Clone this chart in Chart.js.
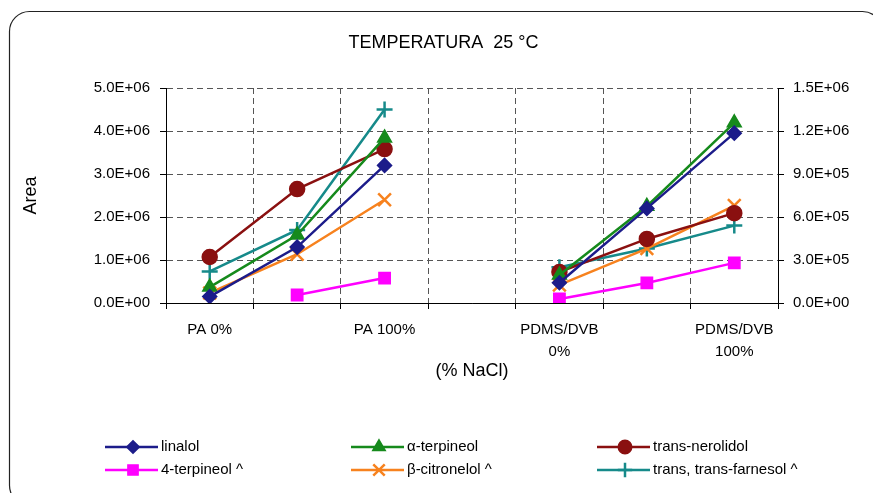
<!DOCTYPE html>
<html>
<head>
<meta charset="utf-8">
<script src="https://cdn.jsdelivr.net/npm/chart.js@4.4.0/dist/chart.umd.min.js"></script>
<style>
  html, body { margin: 0; padding: 0; background: #fff; }
  #wrap { width: 873px; height: 493px; }
</style>
</head>
<body>
<div id="wrap"><canvas id="grafico"></canvas></div>
<script>
const categorias = ['PA 0%', '', 'PA 100%', '', ['PDMS/DVB', '0%'], '', ['PDMS/DVB', '100%']];

// eixo principal (esquerda)
const linalol        = [0.15e6, 1.30e6, 3.20e6, null, 0.47e6, 2.20e6, 3.95e6];
const aTerpineol     = [0.37e6, 1.58e6, 3.84e6, null, 0.65e6, 2.25e6, 4.19e6];
const transNerolidol = [1.07e6, 2.65e6, 3.58e6, null, 0.72e6, 1.49e6, 2.09e6];
// eixo secundario (direita) - series com ^
const terpineol4     = [null, 0.056e6, 0.174e6, null, 0.028e6, 0.14e6, 0.28e6];
const bCitronelol    = [0.07e6, 0.34e6, 0.72e6, null, 0.126e6, 0.38e6, 0.68e6];
const farnesol       = [0.22e6, 0.51e6, 1.35e6, null, 0.25e6, 0.38e6, 0.54e6];

const FONTE = "'Liberation Sans', Arial, sans-serif";

const fmtE = v => {
  if (Math.abs(v) < 1e-9) return '0.0E+00';
  const [m, e] = Number(v).toExponential(1).split('e');
  const n = parseInt(e, 10);
  return m + 'E' + (n < 0 ? '-' : '+') + String(Math.abs(n)).padStart(2, '0');
};

const serie = (label, data, cor, estilo, raio, eixo, bw) => ({
  label, data, yAxisID: eixo,
  borderColor: cor, backgroundColor: cor,
  borderWidth: 2.5,
  pointStyle: estilo, pointRadius: raio, pointHoverRadius: raio,
  pointBorderWidth: bw, pointBorderColor: cor, pointBackgroundColor: cor,
  spanGaps: false, tension: 0
});

const borda = {
  id: 'borda',
  beforeDraw(chart) {
    const c = chart.ctx;
    c.save();
    c.strokeStyle = '#222';
    c.lineWidth = 1.2;
    c.beginPath();
    c.roundRect(9.5, 11.5, 873, 494, 20);
    c.stroke();
    c.restore();
  }
};

const legenda = {
  id: 'legenda',
  afterDraw(chart) {
    const c = chart.ctx;
    const colX = [105, 351, 597];
    const rowY = [447, 470];
    chart.data.datasets.forEach((ds, i) => {
      const x = colX[i % 3], y = rowY[Math.floor(i / 3)];
      c.save();
      c.strokeStyle = ds.borderColor;
      c.fillStyle = ds.backgroundColor;
      c.lineWidth = 2.5;
      c.beginPath();
      c.moveTo(x, y); c.lineTo(x + 53, y);
      c.stroke();
      c.lineWidth = ds.pointBorderWidth;
      Chart.helpers.drawPoint(c, {
        pointStyle: ds.pointStyle, radius: ds.pointRadius * 0.9,
        borderWidth: ds.pointBorderWidth, rotation: 0
      }, x + 28, y);
      c.fillStyle = '#000';
      c.font = '15px ' + FONTE;
      c.textBaseline = 'middle';
      c.fillText(ds.label, x + 56, y);
      c.restore();
    });
  }
};

const ctx = document.getElementById('grafico');

new Chart(ctx, {
  type: 'line',
  data: {
    labels: categorias,
    datasets: [
      serie('linalol', linalol, '#1c1c8a', 'rectRot', 7, 'y', 1.5),
      serie('α-terpineol', aTerpineol, '#168a1c', 'triangle', 8, 'y', 1.5),
      serie('trans-nerolidol', transNerolidol, '#8a1010', 'circle', 7.5, 'y', 1.5),
      serie('4-terpineol ^', terpineol4, '#ff00ff', 'rect', 8, 'y1', 1.5),
      serie('β-citronelol ^', bCitronelol, '#f7821e', 'crossRot', 9, 'y1', 2.5),
      serie('trans, trans-farnesol ^', farnesol, '#168a8a', 'cross', 8, 'y1', 2.5)
    ]
  },
  options: {
    responsive: true,
    maintainAspectRatio: false,
    animation: false,
    events: [],
    layout: { padding: { left: 14, right: 0, top: 10, bottom: 111 } },
    plugins: {
      legend: { display: false },
      tooltip: { enabled: false },
      title: {
        display: true,
        text: 'TEMPERATURA  25 °C',
        color: '#000',
        font: { family: FONTE, size: 18, weight: 'normal' },
        padding: { top: 22, bottom: 34.4 }
      }
    },
    scales: {
      x: {
        offset: true,
        grid: {
          offset: true, color: '#555', lineWidth: 1,
          tickColor: '#000', tickLength: 6, tickBorderDash: []
        },
        border: { display: true, color: '#000', width: 1, dash: [6, 4] },
        ticks: {
          color: '#000', autoSkip: false, maxRotation: 0, padding: 10,
          font: { family: FONTE, size: 15, lineHeight: 1.45 }
        },
        title: {
          display: true, text: '(% NaCl)', color: '#000',
          font: { family: FONTE, size: 18 }, padding: 0
        },
        afterFit: s => { s.height = 79; }
      },
      y: {
        position: 'left',
        min: 0, max: 5e6,
        grid: {
          color: '#555', lineWidth: 1,
          tickColor: '#000', tickLength: 6, tickBorderDash: []
        },
        border: { display: true, color: '#000', width: 1, dash: [6, 4] },
        ticks: {
          stepSize: 1e6, color: '#000', padding: 10,
          font: { family: FONTE, size: 15 },
          callback: v => fmtE(v)
        },
        title: {
          display: true, text: 'Area', color: '#000',
          font: { family: FONTE, size: 18 }, padding: { top: 6, bottom: 0 }
        },
        afterFit: s => { s.width = 152; }
      },
      y1: {
        position: 'right',
        min: 0, max: 1.5e6,
        grid: {
          drawOnChartArea: false,
          tickColor: '#000', tickLength: 6
        },
        border: { display: true, color: '#000', width: 1 },
        ticks: {
          stepSize: 3e5, color: '#000', padding: 9,
          font: { family: FONTE, size: 15 },
          callback: v => fmtE(v)
        },
        afterFit: s => { s.width = 95; }
      }
    }
  },
  plugins: [borda, legenda]
});
</script>
</body>
</html>
